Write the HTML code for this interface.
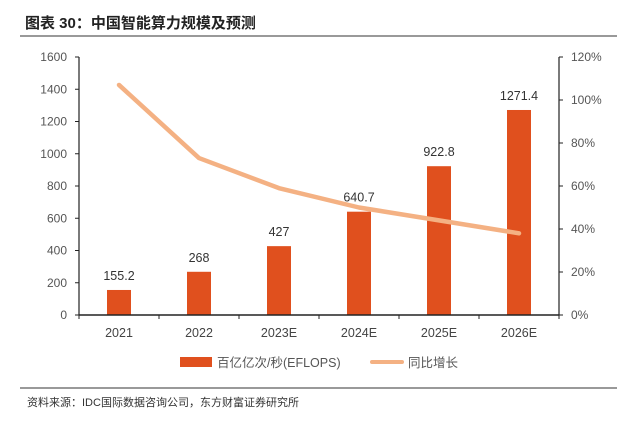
<!DOCTYPE html>
<html><head><meta charset="utf-8"><style>
body{margin:0;background:#fff;}
svg text{font-family:"Liberation Sans","Noto Sans CJK SC",sans-serif;}
</style></head><body>
<svg id="c" width="631" height="420" xmlns="http://www.w3.org/2000/svg">
<text x="25" y="28" font-size="15" font-weight="bold" fill="#222">图表 30：中国智能算力规模及预测</text>
<line x1="20" y1="36" x2="617" y2="36" stroke="#999" stroke-width="2"/>
<g id="plot"></g>
<rect x="180" y="357" width="32" height="10" fill="#e0501e"/>
<text x="217" y="367" font-size="12.5" fill="#555">百亿亿次/秒(EFLOPS)</text>
<line x1="372" y1="362" x2="402" y2="362" stroke="#f4b183" stroke-width="4" stroke-linecap="round"/>
<text x="408" y="367" font-size="12.5" fill="#555">同比增长</text>
<line x1="20" y1="388" x2="617" y2="388" stroke="#999" stroke-width="2"/>
<text x="27" y="406" font-size="11" fill="#333">资料来源：IDC国际数据咨询公司，东方财富证券研究所</text>
</svg>
<script>
const categories=["2021","2022","2023E","2024E","2025E","2026E"];
const computeValues=[155.2,268,427,640.7,922.8,1271.4];
const valueLabels=["155.2","268","427","640.7","922.8","1271.4"];
const growthValues=[107,73,59,50,44,38];
const leftTicks=[0,200,400,600,800,1000,1200,1400,1600];
const rightTicks=[0,20,40,60,80,100,120];
const NS="http://www.w3.org/2000/svg";
const g=document.getElementById('plot');
const L=79,R=559,T=57,B=315;
const yL=v=>B-(v/1600)*(B-T);
const yR=v=>B-(v/120)*(B-T);
const step=(R-L)/categories.length;
const xC=i=>L+step*(i+0.5);
function mk(tag,a){const e=document.createElementNS(NS,tag);for(const k in a)e.setAttribute(k,a[k]);g.appendChild(e);return e;}
leftTicks.forEach(t=>{
 const tx=mk('text',{x:L-12,y:yL(t)+4,'font-size':12,fill:'#555','text-anchor':'end'});tx.textContent=t;
 
 
 const l=mk('line',{x1:L-4,x2:L,y1:yL(t),y2:yL(t),stroke:'#222'});
 
 
});
rightTicks.forEach(t=>{
 const tx=mk('text',{x:R+12,y:yR(t)+4,'font-size':12,fill:'#555'});tx.textContent=t+'%';
 
 
 const l=mk('line',{x1:R,x2:R+4,y1:yR(t),y2:yR(t),stroke:'#222'});
 
 
});
computeValues.forEach((v,i)=>{
 const r=mk('rect',{x:xC(i)-12,y:yL(v),width:24,height:B-yL(v),fill:'#e0501e'});
 
 
 const t=mk('text',{x:xC(i),y:yL(v)-10,'font-size':12.5,fill:'#333','text-anchor':'middle'});t.textContent=valueLabels[i];
 
 
 const c=mk('text',{x:xC(i),y:B+22,'font-size':12.5,fill:'#444','text-anchor':'middle'});c.textContent=categories[i];
 
 
});
for(let i=0;i<=categories.length;i++){
 const l=mk('line',{x1:L+step*i,x2:L+step*i,y1:B,y2:B+4,stroke:'#222'});
 
 
}
const p=mk('polyline',{points:growthValues.map((v,i)=>xC(i)+','+yR(v)).join(' '),fill:'none',stroke:'#f4b183','stroke-width':4.5,'stroke-linejoin':'round','stroke-linecap':'round'});


const la=mk('line',{x1:L,x2:L,y1:T,y2:B,stroke:'#222','stroke-width':1.2});


const ra=mk('line',{x1:R,x2:R,y1:T,y2:B,stroke:'#222','stroke-width':1.2});


const xa=mk('line',{x1:L,x2:R,y1:B,y2:B,stroke:'#222','stroke-width':1.5});


</script>
</body></html>
